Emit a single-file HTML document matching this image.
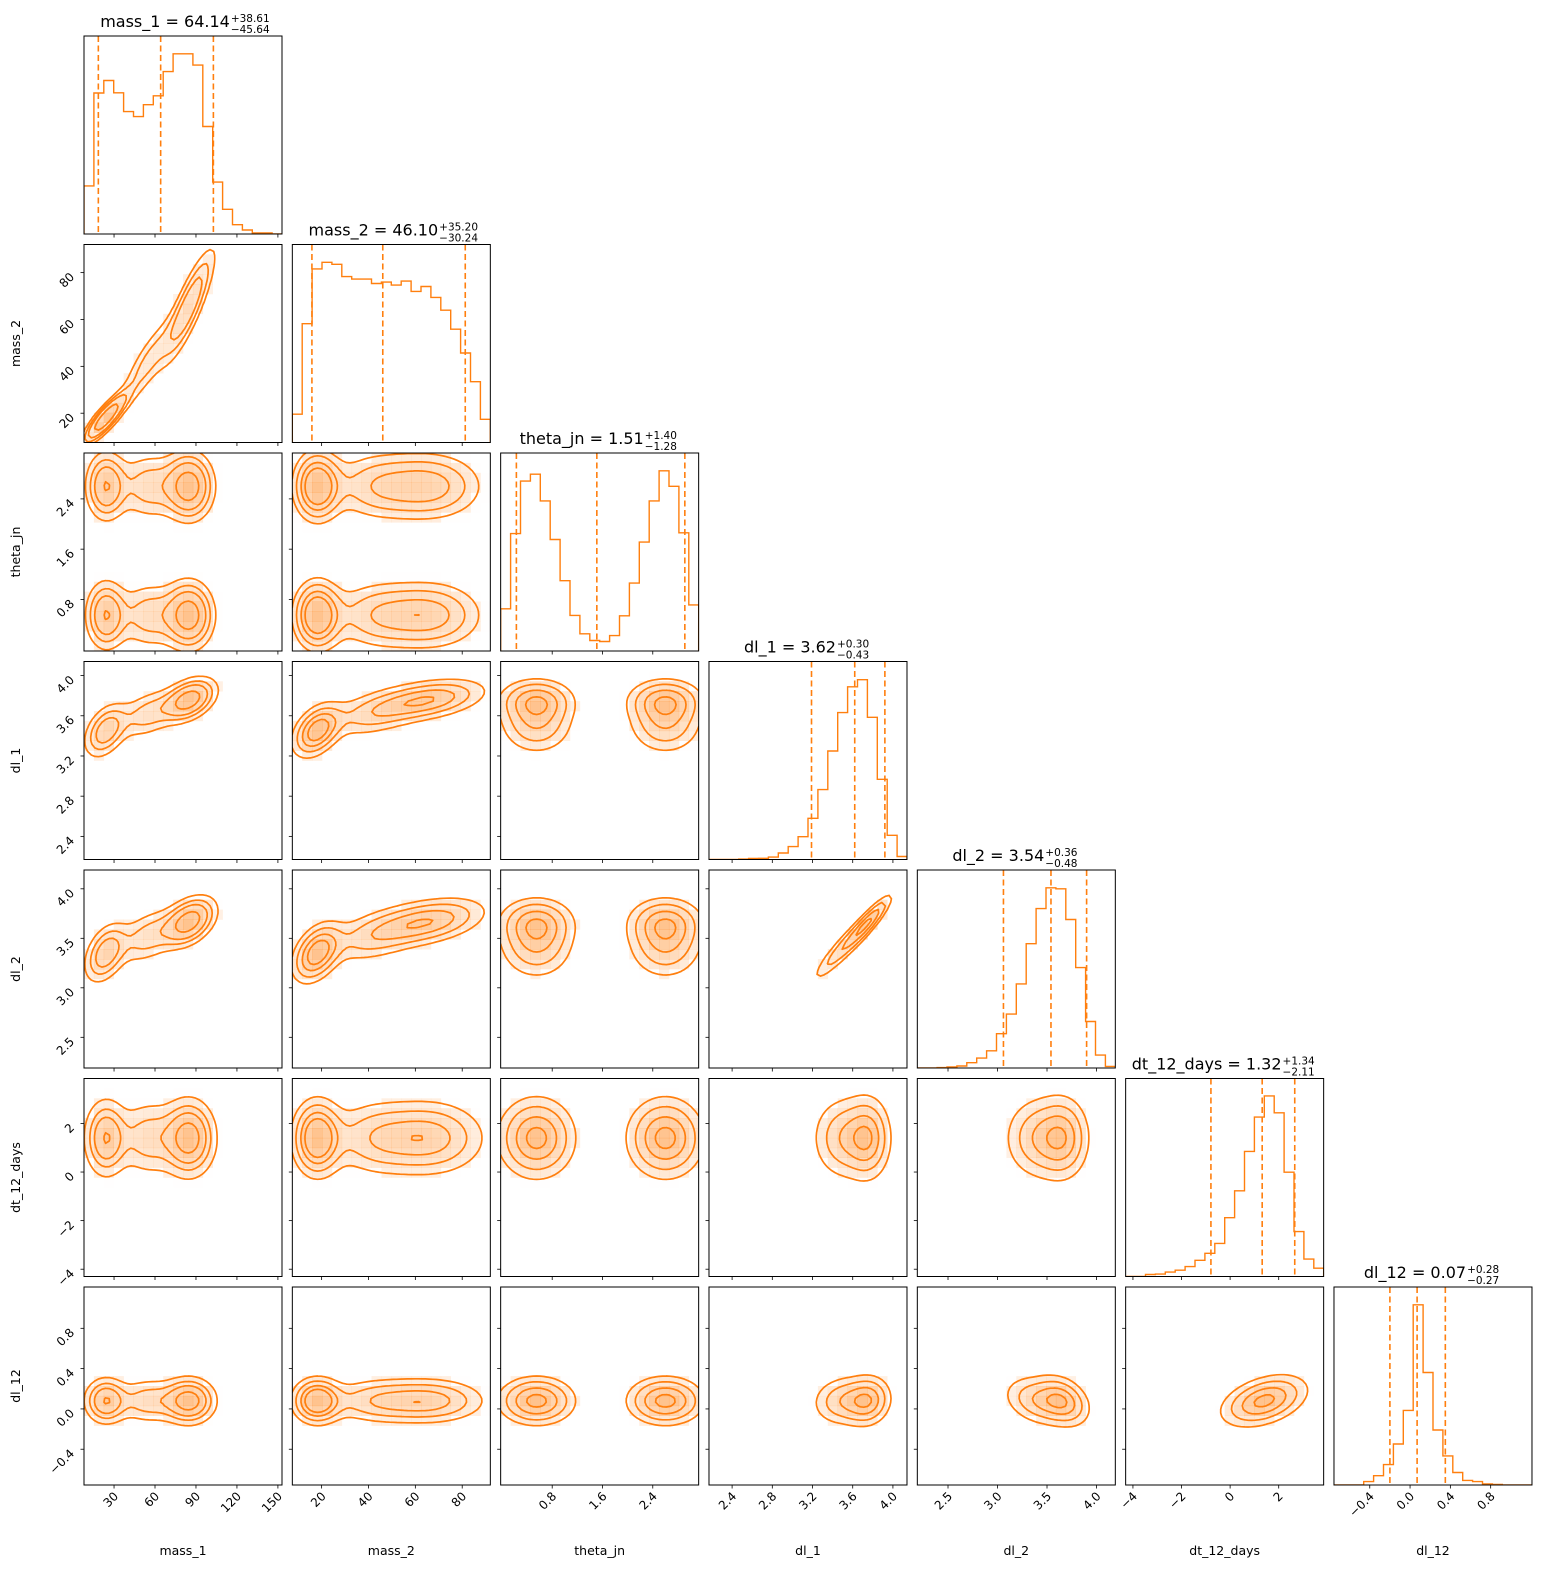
<!DOCTYPE html>
<html><head><meta charset="utf-8"><style>
html,body{margin:0;padding:0;background:#fff;overflow:hidden}
svg{display:block;font-family:"DejaVu Sans","Liberation Sans",sans-serif}
</style></head><body>
<svg id="fig" xmlns="http://www.w3.org/2000/svg" width="1554" height="1580" viewBox="0 0 1554 1580">
<rect width="1554" height="1580" fill="#fff"/>
</svg>
<script>
// ---- data ----
const params = ["mass_1","mass_2","theta_jn","dl_1","dl_2","dt_12_days","dl_12"];
const ranges = [[8,153],[7.5,92],[-0.02,3.13],[2.17,4.14],[2.19,4.19],[-4.3,3.85],[-0.755,1.21]];
const h_m1 = [0.243,0.712,0.775,0.713,0.618,0.593,0.653,0.698,0.82,0.91,0.91,0.853,0.543,0.262,0.125,0.047,0.02,0.005,0.005,0];
const h_m2 = [0.143,0.6,0.877,0.91,0.9,0.838,0.825,0.825,0.803,0.81,0.795,0.815,0.763,0.788,0.733,0.668,0.572,0.452,0.307,0.117];
const h_th = [0.213,0.593,0.858,0.893,0.758,0.563,0.355,0.18,0.087,0.053,0.048,0.078,0.178,0.343,0.55,0.758,0.91,0.832,0.597,0.233];
const h_dl1 = [0,0,0,0.002,0.005,0.006,0.012,0.033,0.065,0.115,0.208,0.353,0.548,0.742,0.872,0.908,0.718,0.405,0.122,0.015];
const h_dl2 = [0,0,0.002,0.005,0.01,0.027,0.05,0.087,0.173,0.272,0.425,0.628,0.805,0.91,0.905,0.75,0.507,0.235,0.065,0.008];
const h_dt = [0,0,0.01,0.012,0.022,0.032,0.05,0.082,0.117,0.167,0.297,0.433,0.632,0.805,0.912,0.827,0.527,0.227,0.088,0.042];
const h_dl12 = [0,0,0,0.017,0.047,0.103,0.207,0.377,0.91,0.568,0.278,0.147,0.063,0.023,0.017,0.005,0.003,0,0,0];
const qMed = [64.14,46.10,1.51,3.62,3.54,1.32,0.07];
const qPlus = [38.61,35.20,1.40,0.30,0.36,1.34,0.28];
const qMinus = [45.64,30.24,1.28,0.43,0.48,2.11,0.27];
const tickVals = [[30,60,90,120,150],[20,40,60,80],[0.8,1.6,2.4],[2.4,2.8,3.2,3.6,4.0],[2.5,3.0,3.5,4.0],[-4,-2,0,2],[-0.4,0,0.4,0.8]];
const tickLabels = [["30","60","90","120","150"],["20","40","60","80"],["0.8","1.6","2.4"],["2.4","2.8","3.2","3.6","4.0"],["2.5","3.0","3.5","4.0"],["\u22124","\u22122","0","2"],["\u22120.4","0.0","0.4","0.8"]];
// 2D density model (mixture components)
const compW = [0.3,0.25,0.45];
const m1Mu = [24,55,85], m1Sd = [9,13,11];
const m2Mu = [18,42,66], m2Sd = [6,12,14];
const dl1Mu = [3.45,3.62,3.76], dl1Sd = [0.15,0.14,0.12];
const dl2Mu = [3.35,3.52,3.67], dl2Sd = [0.17,0.16,0.14];
const dtMu = [1.4,1.4,1.4], dtSd = [0.9,0.9,0.9];
const dl12Mu = [0.08,0.08,0.08], dl12Sd = [0.13,0.13,0.13];
const thW = [0.5,0.5], thMu = [0.55,2.6], thSd = [0.33,0.33];
const CORR = [
 [1,0.85,0,0.4,0.4,0,0],
 [0.85,1,0,0.4,0.4,0,0],
 [0,0,1,0,0,0,0],
 [0.4,0.4,0,1,0.9,0,0.1],
 [0.4,0.4,0,0.9,1,0,-0.3],
 [0,0,0,0,0,1,0.4],
 [0,0,0,0.1,-0.3,0.4,1]];
const hists = [h_m1,h_m2,h_th,h_dl1,h_dl2,h_dt,h_dl12];

// ---- layout ----
const NS = "http://www.w3.org/2000/svg";
const svg = document.getElementById("fig");
const OR = "#ff7f0e";
const PX0 = 84, PY0 = 36, STEP_X = 208.33, STEP_Y = 208.5, PW = 198, PH = 198;
function el(tag, attrs, parent){ const e=document.createElementNS(NS,tag); for(const k in attrs) e.setAttribute(k,attrs[k]); (parent||svg).appendChild(e); return e; }
function sx(p,v,x0){ const r=ranges[p]; return x0+(v-r[0])/(r[1]-r[0])*PW; }
function sy(p,v,y0){ const r=ranges[p]; return y0+PH-(v-r[0])/(r[1]-r[0])*PH; }

const comps = [];
for(let a=0;a<compW.length;a++) for(let t=0;t<thW.length;t++){
  comps.push({w:compW[a]*thW[t],
    mu:[m1Mu[a],m2Mu[a],thMu[t],dl1Mu[a],dl2Mu[a],dtMu[a],dl12Mu[a]],
    sd:[m1Sd[a],m2Sd[a],thSd[t],dl1Sd[a],dl2Sd[a],dtSd[a],dl12Sd[a]]});
}
function dens(a,b,x,y){
  let s=0; const r=CORR[a][b], k=Math.sqrt(1-r*r);
  for(const c of comps){
    const zx=(x-c.mu[a])/c.sd[a], zy=(y-c.mu[b])/c.sd[b];
    const q=(zx*zx-2*r*zx*zy+zy*zy)/(k*k);
    s+=c.w/(c.sd[a]*c.sd[b]*k)*Math.exp(-q/2);
  }
  return s;
}
const LEVELS = [0.5,1,1.5,2].map(s=>1-Math.exp(-0.5*s*s));

let clipId=0;
for(let row=0; row<7; row++){
  for(let col=0; col<=row; col++){
    const x0 = PX0+col*STEP_X, y0 = PY0+row*STEP_Y;
    const g = el("g",{});
    
    
    const cid="c"+(clipId++);
    const cp = el("clipPath",{id:cid},g); el("rect",{x:x0,y:y0,width:PW,height:PH},cp);
    const inner = el("g",{"clip-path":"url(#"+cid+")"},g);
    if(row===col){
      const h = hists[col], n=h.length, r=ranges[col];
      let d = "M"+x0+","+(y0+PH);
      for(let i=0;i<n;i++){
        const xa = sx(col, r[0]+(r[1]-r[0])*i/n, x0), xb = sx(col, r[0]+(r[1]-r[0])*(i+1)/n, x0);
        const yy = y0+PH-h[i]*PH;
        d += " L"+xa.toFixed(1)+","+yy.toFixed(1)+" L"+xb.toFixed(1)+","+yy.toFixed(1);
      }
      d += " L"+(x0+PW)+","+(y0+PH);
      const hp = el("path",{d:d,fill:"none",stroke:OR,"stroke-width":1.4},inner);
      
      
      const qs=[qMed[col]-qMinus[col], qMed[col], qMed[col]+qPlus[col]];
      qs.forEach((q,qi)=>{
        const xq=sx(col,q,x0);
        const ln = el("line",{x1:xq,x2:xq,y1:y0,y2:y0+PH,stroke:OR,"stroke-width":1.6,"stroke-dasharray":"6,3.5"},inner);
        
        
      });
      const t = el("text",{x:x0+PW/2-18,y:y0-9,"text-anchor":"middle","font-size":"16",fill:"#000"},g);
      
      
      t.textContent = params[col]+" = "+qMed[col].toFixed(2);
      const tb = t.getComputedTextLength ? t.getComputedTextLength() : 100;
      const sxp = x0+PW/2-18+tb/2+1;
      const sup = el("text",{x:sxp,y:y0-14,"font-size":"10.5",fill:"#000"},g);
      
      
      sup.textContent = "+"+qPlus[col].toFixed(2);
      const sub = el("text",{x:sxp,y:y0-3,"font-size":"10.5",fill:"#000"},g);
      
      
      sub.textContent = "\u2212"+qMinus[col].toFixed(2);
    } else {
      const a=col, b=row, ra=ranges[a], rb=ranges[b];
      const N=56, G=[]; let tot=0; const flat=[];
      for(let j=0;j<N;j++){ G.push([]); for(let i=0;i<N;i++){
        const x=ra[0]+(ra[1]-ra[0])*i/(N-1), y=rb[0]+(rb[1]-rb[0])*j/(N-1);
        const v=dens(a,b,x,y); G[j].push(v); flat.push(v); tot+=v; } }
      flat.sort((p,q)=>q-p);
      const thr=[]; let cum=0, li=0; const levs=LEVELS.slice();
      for(const v of flat){ cum+=v/tot; while(li<levs.length && cum>=levs[li]){ thr.push(v); li++; } if(li>=levs.length) break; }
      const dmax = flat[0];
      const M=20;
      for(let j=0;j<M;j++) for(let i=0;i<M;i++){
        const x=ra[0]+(ra[1]-ra[0])*(i+0.5)/M, y=rb[0]+(rb[1]-rb[0])*(j+0.5)/M;
        const v=dens(a,b,x,y);
        let al = v>=thr[3] ? 0.05+0.42*(v/dmax) : 0.04*v/dmax;
        if(al<0.004) continue;
        const cx=sx(a,ra[0]+(ra[1]-ra[0])*i/M,x0), cy=sy(b,rb[0]+(rb[1]-rb[0])*(j+1)/M,y0);
        const cell = el("rect",{x:cx.toFixed(2),y:cy.toFixed(2),width:(PW/M+0.3).toFixed(2),height:(PH/M+0.3).toFixed(2),fill:OR,"fill-opacity":Math.min(al,0.7).toFixed(3)},inner);
        
        
      }
      thr.forEach((L,k)=>{
        let d="";
        const P=(i,j)=>[sx(a,ra[0]+(ra[1]-ra[0])*i/(N-1),x0), sy(b,rb[0]+(rb[1]-rb[0])*j/(N-1),y0)];
        for(let j=0;j<N-1;j++) for(let i=0;i<N-1;i++){
          const v00=G[j][i], v10=G[j][i+1], v11=G[j+1][i+1], v01=G[j+1][i];
          const pts=[];
          const edge=(va,vb,ia,ja,ib,jb)=>{ if((va>=L)!==(vb>=L)){ const t=(L-va)/(vb-va); const A=P(ia,ja),B=P(ib,jb); pts.push([A[0]+(B[0]-A[0])*t, A[1]+(B[1]-A[1])*t]); } };
          edge(v00,v10,i,j,i+1,j); edge(v10,v11,i+1,j,i+1,j+1); edge(v01,v11,i,j+1,i+1,j+1); edge(v00,v01,i,j,i,j+1);
          for(let p=0;p+1<pts.length;p+=2) d+="M"+pts[p][0].toFixed(1)+","+pts[p][1].toFixed(1)+"L"+pts[p+1][0].toFixed(1)+","+pts[p+1][1].toFixed(1);
        }
        const cpth = el("path",{d:d,fill:"none",stroke:OR,"stroke-width":1.7,"stroke-linecap":"round"},inner);
        
        
      });
      tickVals[row].forEach((v,ti)=>{
        const ty=sy(row,v,y0);
        if(ty<y0-0.5||ty>y0+PH+0.5) return;
        el("line",{x1:x0-3.5,x2:x0,y1:ty,y2:ty,stroke:"#000","stroke-width":0.8},g);
        if(col===0){
          const tl = el("text",{x:x0-9,y:ty+5,"text-anchor":"end","font-size":"12",transform:"rotate(-45 "+(x0-9)+" "+(ty+5)+")"},g);
          
          
          tl.textContent = tickLabels[row][ti];
        }
      });
    }
    tickVals[col].forEach((v,ti)=>{
      const tx=sx(col,v,x0);
      if(tx<x0-0.5||tx>x0+PW+0.5) return;
      el("line",{x1:tx,x2:tx,y1:y0+PH,y2:y0+PH+3.5,stroke:"#000","stroke-width":0.8},g);
      if(row===6){
        const tl = el("text",{x:tx+5,y:y0+PH+12,"text-anchor":"end","font-size":"12",transform:"rotate(-45 "+(tx+5)+" "+(y0+PH+12)+")"},g);
        
        
        tl.textContent = tickLabels[col][ti];
      }
    });
    const fr = el("rect",{x:x0,y:y0,width:PW,height:PH,fill:"none",stroke:"#000","stroke-width":1},g);
    
    
  }
}
for(let c=0;c<7;c++){
  const x0=PX0+c*STEP_X;
  const t=el("text",{x:x0+PW/2,y:1555,"text-anchor":"middle","font-size":"12.5"});
  
  
  t.textContent=params[c];
}
for(let r=1;r<7;r++){
  const yc=PY0+r*STEP_Y+PH/2;
  const t=el("text",{x:20,y:yc,"text-anchor":"middle","font-size":"12.5",transform:"rotate(-90 20 "+yc+")"});
  
  
  t.textContent=params[r];
}
</script>
</body></html>
